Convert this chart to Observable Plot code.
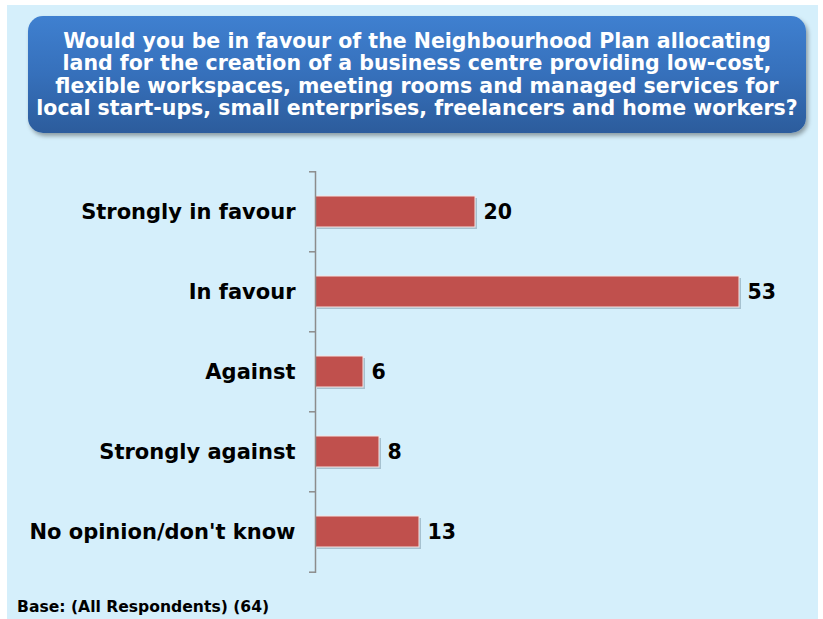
<!DOCTYPE html>
<html>
<head>
<meta charset="utf-8">
<script src="https://cdn.jsdelivr.net/npm/d3@7"></script>
<script src="https://cdn.jsdelivr.net/npm/@observablehq/plot@0.6"></script>
<style>
  html, body { margin: 0; padding: 0; background: #ffffff; }
  #wrap { position: relative; width: 823px; height: 619px; overflow: hidden; }
  #bg { position: absolute; left: 7px; top: 5px; width: 811px; height: 614px; background: #d5effb; }
  #title {
    position: absolute; left: 28px; top: 16px; width: 778px; height: 117px;
    border-radius: 15px;
    background: linear-gradient(to bottom, #3f80d0 0%, #3670bb 50%, #2c5c9c 100%);
    box-shadow: 2px 3px 4px rgba(0,0,0,0.35);
    display: flex; align-items: center; justify-content: center;
    color: #ffffff; font-family: "DejaVu Sans", Verdana, sans-serif; font-weight: bold;
    font-size: 20.5px; line-height: 22.5px; text-align: center; white-space: nowrap;
  }
  #chart { position: absolute; left: 0; top: 0; }
  #foot {
    position: absolute; left: 17px; top: 598px;
    font-family: "DejaVu Sans", Verdana, sans-serif; font-weight: bold; font-size: 15.6px; color: #000;
  }
</style>
</head>
<body>
<div id="wrap">
  <div id="bg"></div>
  <div id="title"></div>
  <div id="chart"></div>
  <div id="foot"></div>
</div>
<script>
const titleLines = [
  "Would you be in favour of the Neighbourhood Plan allocating",
  "land for the creation of a business centre providing low-cost,",
  "flexible workspaces, meeting rooms and managed services for",
  "local start-ups, small enterprises, freelancers and home workers?"
];
const footnote = "Base: (All Respondents) (64)";
const categories = ["Strongly in favour", "In favour", "Against", "Strongly against", "No opinion/don't know"];
const values = [20, 53, 6, 8, 13];

document.getElementById("title").innerHTML = titleLines.join("<br>");
document.getElementById("foot").textContent = footnote;

const data = categories.map((c, i) => ({category: c, value: values[i]}));

const W = 823, H = 619;
const marginTop = 171, marginBottom = 46, marginLeft = 315, marginRight = 28;
const step = (H - marginTop - marginBottom) / categories.length;

const chart = Plot.plot({
  width: W,
  height: H,
  marginTop, marginBottom, marginLeft, marginRight,
  style: {fontFamily: "DejaVu Sans, Verdana, sans-serif", background: "transparent", color: "#000"},
  x: {domain: [0, 60], axis: null},
  y: {domain: categories, paddingInner: 0.61, paddingOuter: 0.305, label: null},
  marks: [
    Plot.barX(data, {x: "value", y: "category", fill: "#7f9aab", fillOpacity: 0.55, dx: 2, dy: 2}),
    Plot.barX(data, {x: "value", y: "category", fill: "#c0504d", stroke: "#f4e4e4", strokeWidth: 1}),
    Plot.ruleX([0], {stroke: "#8c8c8c", strokeWidth: 1.5}),
    Plot.ruleY(categories, {y: d => d, x1: -0.75, x2: 0, dy: -step / 2, stroke: "#8c8c8c", strokeWidth: 1.5}),
    Plot.ruleY(categories.slice(-1), {y: d => d, x1: -0.75, x2: 0, dy: step / 2, stroke: "#8c8c8c", strokeWidth: 1.5}),
    Plot.axisY({tickSize: 0, tickPadding: 20, fontSize: 21, fontWeight: "bold", label: null}),
    Plot.text(data, {x: "value", y: "category", text: d => String(d.value), dx: 8, textAnchor: "start", fontSize: 20.5, fontWeight: "bold", fill: "#000"})
  ]
});
document.getElementById("chart").appendChild(chart);
</script>
</body>
</html>
